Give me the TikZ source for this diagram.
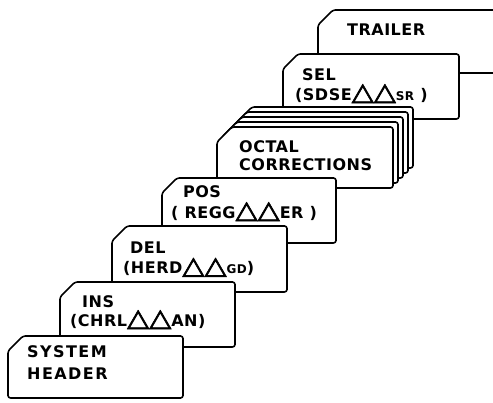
\documentclass[tikz,border=0pt]{standalone}
\usepackage{fontspec}
\usepackage{graphicx}
\newfontfamily\cardfont[LetterSpace=3]{DejaVu Sans Bold}
\newfontfamily\widefont[LetterSpace=9]{DejaVu Sans Bold}
\newfontfamily\trifont[FakeBold=2.5]{DejaVu Sans Bold}
\newcommand\tri{\scalebox{1.8}[1.55]{\trifont △}}
\newcommand\sm[1]{{\fontsize{12}{15}\selectfont #1}}

\begin{document}
\begin{tikzpicture}[x=1pt, y=-1pt, line cap=round, line join=round,
	card/.style={draw, fill=white, line width=1.6pt, rounded corners=2.5pt},
	txt/.style={anchor=north west, inner sep=0pt, align=left, font=\cardfont\fontsize{16}{20}\selectfont}]
		%\draw[red] (0,0) grid[step=50] (493,403);
		\clip (0,0) rectangle (493,403);
		
		% Trailer card, runs off the page
		\draw [card] (318,25) -- (333,10) -- (520,10) -- (520,73) -- (318,73) -- cycle;
		\node [txt] (trl) at (347,24) {TRAILER};
		% Select card
		\draw [card] (283,69) -- (298,54) -- (459,54) -- (459,119) -- (283,119) -- cycle;
		\node [txt] (sel) at (295,68) {\hspace*{7pt}SEL\\(SDSE\tri\tri\sm{SR} )};
		
		% Octal corrections, a stack of cards
		\foreach \k in {4,3,2,1}
			\draw [card, shift={(5*\k,-5*\k)}] (217,142) -- (232,127) -- (393,127) -- (393,188) -- (217,188) -- cycle;
		\draw [card] (217,142) -- (232,127) -- (393,127) -- (393,188) -- (217,188) -- cycle;
		\node [txt, font=\cardfont\fontsize{16}{18}\selectfont] (oct) at (239,140) {OCTAL\\CORRECTIONS};
		
		% Position card
		\draw [card] (162,193) -- (177,178) -- (336,178) -- (336,243) -- (162,243) -- cycle;
		\node [txt, font=\cardfont\fontsize{16}{21}\selectfont] (pos) at (171,185) {\hspace*{12pt}POS\\( REGG\tri\tri ER )};
		% Delete card
		\draw [card] (112,241) -- (127,226) -- (287,226) -- (287,292) -- (112,292) -- cycle;
		\node [txt] (del) at (123,242) {\hspace*{7pt}DEL\\(HERD\tri\tri\sm{GD})};
		% Insert card
		\draw [card] (60,297) -- (75,282) -- (235,282) -- (235,347) -- (60,347) -- cycle;
		\node [txt, font=\cardfont\fontsize{16}{19}\selectfont] (ins) at (70,295) {\hspace*{12pt}INS\\(CHRL\tri\tri AN)};
		
		% System header, in front of all
		\draw [card] (8,351) -- (23,336) -- (183,336) -- (183,398) -- (8,398) -- cycle;
		\node [txt, font=\widefont\fontsize{16}{22}\selectfont] (sh) at (27,345) {SYSTEM\\HEADER};
	\end{tikzpicture}
\end{document}
